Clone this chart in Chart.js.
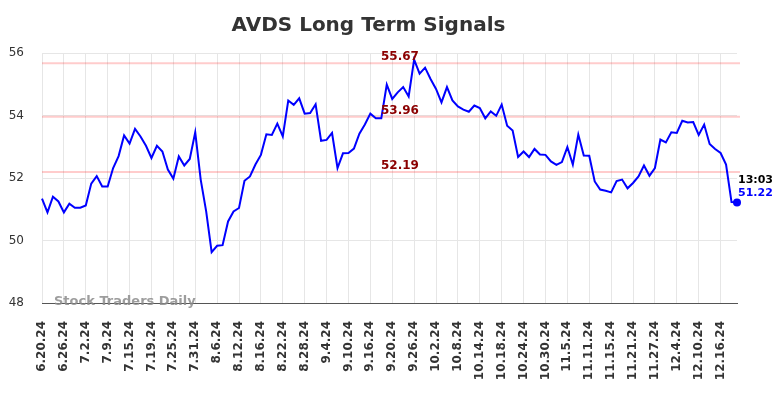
<!DOCTYPE html>
<html>
<head>
<meta charset="utf-8">
<script src="https://cdn.jsdelivr.net/npm/chart.js@4/dist/chart.umd.min.js"></script>
<style>
  html, body { margin: 0; padding: 0; background: #ffffff; }
  #wrap { width: 784px; height: 398px; }
</style>
</head>
<body>
<div id="wrap"><canvas id="Chart" width="784" height="398"></canvas></div>
<script>
// Trading days shown on the x axis (every 4th one gets a label)
const dates = [
  '6.20.24','6.21.24','6.24.24','6.25.24','6.26.24','6.27.24','6.28.24','7.1.24','7.2.24','7.3.24',
  '7.5.24','7.8.24','7.9.24','7.10.24','7.11.24','7.12.24','7.15.24','7.16.24','7.17.24','7.18.24',
  '7.19.24','7.22.24','7.23.24','7.24.24','7.25.24','7.26.24','7.29.24','7.30.24','7.31.24','8.1.24',
  '8.2.24','8.5.24','8.6.24','8.7.24','8.8.24','8.9.24','8.12.24','8.13.24','8.14.24','8.15.24',
  '8.16.24','8.19.24','8.20.24','8.21.24','8.22.24','8.23.24','8.26.24','8.27.24','8.28.24','8.29.24',
  '8.30.24','9.3.24','9.4.24','9.5.24','9.6.24','9.9.24','9.10.24','9.11.24','9.12.24','9.13.24',
  '9.16.24','9.17.24','9.18.24','9.19.24','9.20.24','9.23.24','9.24.24','9.25.24','9.26.24','9.27.24',
  '9.30.24','10.1.24','10.2.24','10.3.24','10.4.24','10.7.24','10.8.24','10.9.24','10.10.24','10.11.24',
  '10.14.24','10.15.24','10.16.24','10.17.24','10.18.24','10.21.24','10.22.24','10.23.24','10.24.24','10.25.24',
  '10.28.24','10.29.24','10.30.24','10.31.24','11.1.24','11.4.24','11.5.24','11.6.24','11.7.24','11.8.24',
  '11.11.24','11.12.24','11.13.24','11.14.24','11.15.24','11.18.24','11.19.24','11.20.24','11.21.24','11.22.24',
  '11.25.24','11.26.24','11.27.24','11.29.24','12.2.24','12.3.24','12.4.24','12.5.24','12.6.24','12.9.24',
  '12.10.24','12.11.24','12.12.24','12.13.24','12.16.24','12.17.24','12.18.24','12.19.24'
];

// Closing prices
const prices = [
  51.34, 50.90, 51.40, 51.25, 50.90, 51.18, 51.05, 51.05, 51.12, 51.82,
  52.06, 51.73, 51.73, 52.32, 52.70, 53.36, 53.10, 53.57, 53.33, 53.03,
  52.64, 53.03, 52.85, 52.27, 51.98, 52.69, 52.40, 52.61, 53.46, 51.95,
  50.93, 49.63, 49.83, 49.85, 50.61, 50.93, 51.04, 51.91, 52.05, 52.43,
  52.74, 53.40, 53.38, 53.74, 53.33, 54.48, 54.34, 54.55, 54.06, 54.08,
  54.36, 53.19, 53.22, 53.44, 52.32, 52.79, 52.80, 52.94, 53.42, 53.71,
  54.06, 53.91, 53.91, 54.99, 54.53, 54.74, 54.91, 54.61, 55.79, 55.34,
  55.53, 55.17, 54.85, 54.42, 54.91, 54.48, 54.29, 54.19, 54.12, 54.32,
  54.24, 53.91, 54.13, 53.99, 54.35, 53.67, 53.52, 52.67, 52.85, 52.67,
  52.93, 52.75, 52.74, 52.53, 52.42, 52.51, 52.99, 52.43, 53.39, 52.72,
  52.71, 51.89, 51.63, 51.59, 51.54, 51.90, 51.95, 51.67, 51.84, 52.05,
  52.40, 52.07, 52.32, 53.23, 53.14, 53.46, 53.44, 53.83, 53.78, 53.79,
  53.38, 53.71, 53.09, 52.93, 52.80, 52.43, 51.23, 51.22
];

// Signal levels (pink lines)
const signalLevels = [55.67, 53.96, 52.19];

const yTicks = [48, 50, 52, 54, 56];
const lastTime = '13:03';

const labelEvery = 4;
const lastIndex = prices.length - 1;

// Draws the signal lines, their labels, the watermark and the last value tag
const signalsPlugin = {
    id: 'signals',
    beforeDatasetsDraw(chart) {
        const ctx = chart.ctx;
        const area = chart.chartArea;
        const y = chart.scales.y;
        ctx.save();
        ctx.strokeStyle = 'rgba(255, 0, 0, 0.2)';
        ctx.lineWidth = 2;
        signalLevels.forEach(level => {
            const py = y.getPixelForValue(level);
            ctx.beginPath();
            ctx.moveTo(area.left, py);
            ctx.lineTo(area.right + 3, py);
            ctx.stroke();
        });
        ctx.restore();
    },
    afterDatasetsDraw(chart) {
        const ctx = chart.ctx;
        const area = chart.chartArea;
        const x = chart.scales.x;
        const y = chart.scales.y;
        ctx.save();

        // level labels
        ctx.font = 'bold 12px "DejaVu Sans"';
        ctx.fillStyle = '#8b0000';
        ctx.textAlign = 'center';
        ctx.textBaseline = 'alphabetic';
        const labelX = area.left + (area.right - area.left) * 0.515;
        signalLevels.forEach(level => {
            ctx.fillText(level.toFixed(2), labelX, y.getPixelForValue(level) - 3);
        });

        // watermark
        ctx.font = 'bold 13px "DejaVu Sans"';
        ctx.fillStyle = 'rgba(140, 140, 140, 0.85)';
        ctx.textAlign = 'left';
        ctx.textBaseline = 'middle';
        ctx.fillText('Stock Traders Daily', area.left + 12, area.bottom - 1);

        // last value tag
        const lx = x.getPixelForValue(lastIndex);
        const ly = y.getPixelForValue(prices[lastIndex]);
        ctx.font = 'bold 11px "DejaVu Sans"';
        ctx.textAlign = 'left';
        ctx.textBaseline = 'alphabetic';
        ctx.fillStyle = '#000000';
        ctx.fillText(lastTime, lx + 1, ly - 19);
        ctx.fillStyle = '#0000ff';
        ctx.fillText(prices[lastIndex].toFixed(2), lx + 1, ly - 6);
        ctx.restore();
    }
};

const ctx = document.getElementById('Chart').getContext('2d');
const myChart = new Chart(ctx, {
    type: 'line',
    data: {
        labels: dates,
        datasets: [{
            data: prices,
            borderColor: '#0000ff',
            backgroundColor: '#0000ff',
            borderWidth: 2,
            tension: 0,
            pointRadius: prices.map((v, i) => i === lastIndex ? 4 : 0),
            pointBackgroundColor: '#0000ff',
            pointBorderWidth: 0
        }]
    },
    options: {
        responsive: false,
        animation: false,
        layout: {
            padding: { left: 0, right: 47, top: 0, bottom: 0 }
        },
        plugins: {
            legend: { display: false },
            tooltip: { enabled: false },
            title: {
                display: true,
                text: 'AVDS Long Term Signals',
                color: '#333333',
                font: { family: 'DejaVu Sans', size: 20, weight: 'bold' },
                padding: { top: 14, bottom: 15 }
            }
        },
        scales: {
            x: {
                offset: false,
                border: { display: true, color: '#555555', width: 1 },
                grid: {
                    drawTicks: false,
                    color: c => (c.index % labelEvery === 0 ? '#e6e6e6' : 'rgba(0,0,0,0)')
                },
                ticks: {
                    autoSkip: false,
                    minRotation: 90,
                    maxRotation: 90,
                    padding: 18,
                    color: '#333333',
                    font: { family: 'DejaVu Sans', size: 12, weight: 'bold' },
                    callback: function(value, index) {
                        return index % labelEvery === 0 ? dates[index] : '';
                    }
                },
                afterFit: scale => { scale.height = 95; }
            },
            y: {
                min: yTicks[0],
                max: yTicks[yTicks.length - 1],
                border: { display: false },
                grid: { drawTicks: false, color: '#e6e6e6' },
                afterBuildTicks: scale => {
                    scale.ticks = yTicks.map(v => ({ value: v }));
                },
                ticks: {
                    padding: 18,
                    color: '#333333',
                    font: { family: 'DejaVu Sans', size: 12 }
                },
                afterFit: scale => { scale.width = 42; }
            }
        }
    },
    plugins: [signalsPlugin]
});
</script>
</body>
</html>
